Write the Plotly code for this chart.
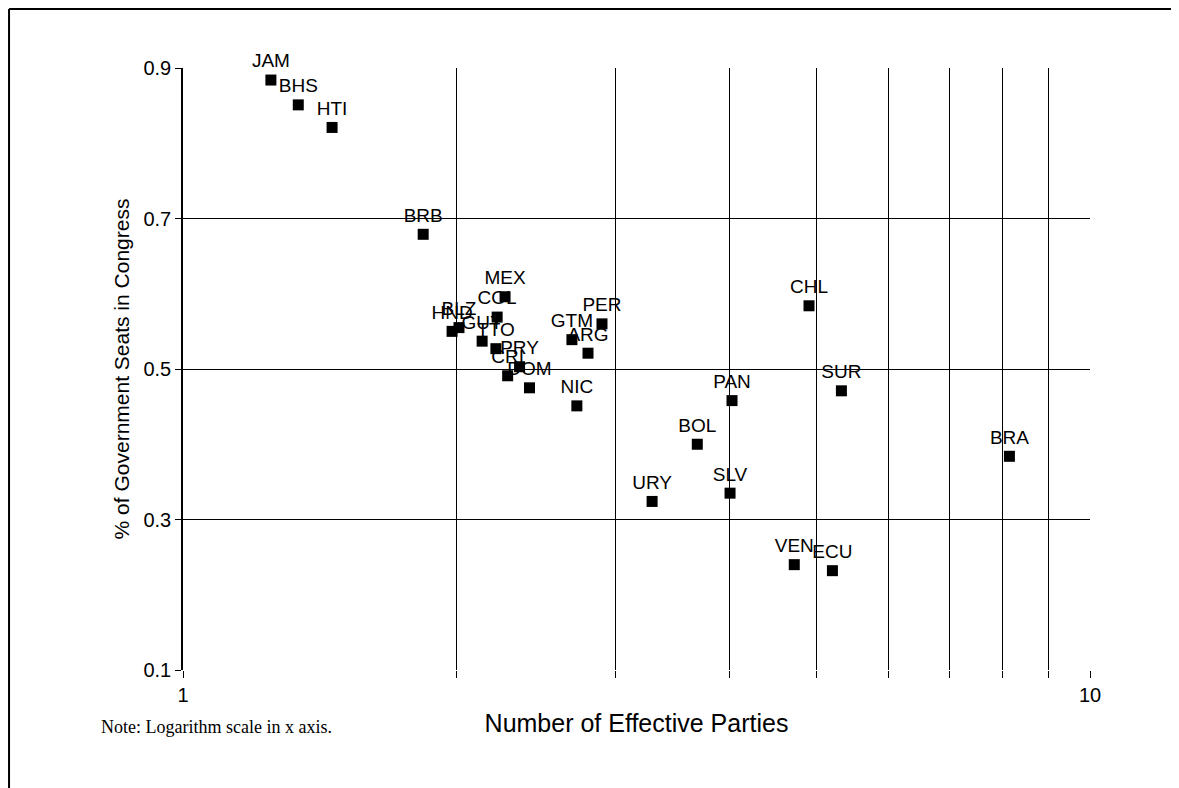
import plotly.graph_objects as go

countries = ["JAM", "BHS", "HTI", "BRB", "MEX", "COL", "HND", "BLZ", "GUY", "TTO",
             "PRY", "CRI", "DOM", "GTM", "ARG", "PER", "NIC", "PAN", "BOL", "URY",
             "SLV", "CHL", "SUR", "VEN", "ECU", "BRA"]
eff_parties = [1.25, 1.34, 1.46, 1.84, 2.265, 2.22, 1.98, 2.015, 2.137, 2.213,
               2.35, 2.28, 2.41, 2.684, 2.796, 2.897, 2.718, 4.03, 3.69, 3.29,
               4.01, 4.90, 5.32, 4.72, 5.20, 8.15]
gov_seats = [0.884, 0.851, 0.821, 0.679, 0.596, 0.569, 0.550, 0.555, 0.537, 0.527,
             0.503, 0.491, 0.475, 0.539, 0.521, 0.560, 0.451, 0.458, 0.400, 0.324,
             0.335, 0.584, 0.471, 0.240, 0.232, 0.384]

x_ticks = [1, 2, 3, 4, 5, 6, 7, 8, 9, 10]
x_ticktext = ["1", "", "", "", "", "", "", "", "", "10"]
y_ticks = [0.1, 0.3, 0.5, 0.7, 0.9]

fig = go.Figure()
fig.add_trace(go.Scatter(
    x=eff_parties, y=gov_seats, mode="markers+text", text=countries,
    textposition="top center",
    textfont=dict(family="Liberation Sans, Arial, sans-serif", size=19, color="black"),
    marker=dict(symbol="square", size=11, color="black"),
    cliponaxis=False, showlegend=False,
))

fig.update_layout(
    width=1171, height=780,
    margin=dict(l=175, r=89, t=60, b=118),
    paper_bgcolor="white", plot_bgcolor="white",
    font=dict(family="Liberation Sans, Arial, sans-serif", size=16, color="black"),
    xaxis=dict(
        type="log", range=[0, 1], tickvals=x_ticks, ticktext=x_ticktext,
        showgrid=True, gridcolor="black", gridwidth=1.3,
        ticks="outside", ticklen=7, tickcolor="black",
        showline=False, zeroline=False,
        tickfont=dict(size=20),
        title=dict(text="Number of Effective Parties", font=dict(size=25), standoff=9),
    ),
    yaxis=dict(
        range=[0.1, 0.9], tickvals=y_ticks, tickformat=".1f",
        showgrid=True, gridcolor="black", gridwidth=1,
        ticks="outside", ticklen=6, tickcolor="black",
        showline=True, linecolor="black", linewidth=1.5, zeroline=False,
        tickfont=dict(size=20),
        title=dict(text="% of Government Seats in Congress", font=dict(size=21), standoff=8),
    ),
    annotations=[dict(
        text="Note: Logarithm scale in x axis.", xref="paper", yref="paper",
        x=-0.093, y=-0.0947, xanchor="left", yanchor="middle", showarrow=False,
        font=dict(family="Liberation Serif, Times New Roman, serif", size=18, color="black"),
    )],
    shapes=[
        dict(type="line", xref="paper", yref="paper", x0=-0.1918, x1=1.11, y0=1.098, y1=1.098,
             line=dict(color="black", width=2)),
        dict(type="line", xref="paper", yref="paper", x0=-0.1918, x1=-0.1918, y0=1.098, y1=-0.2,
             line=dict(color="black", width=2)),
    ],
)

fig.write_html("out.html")
